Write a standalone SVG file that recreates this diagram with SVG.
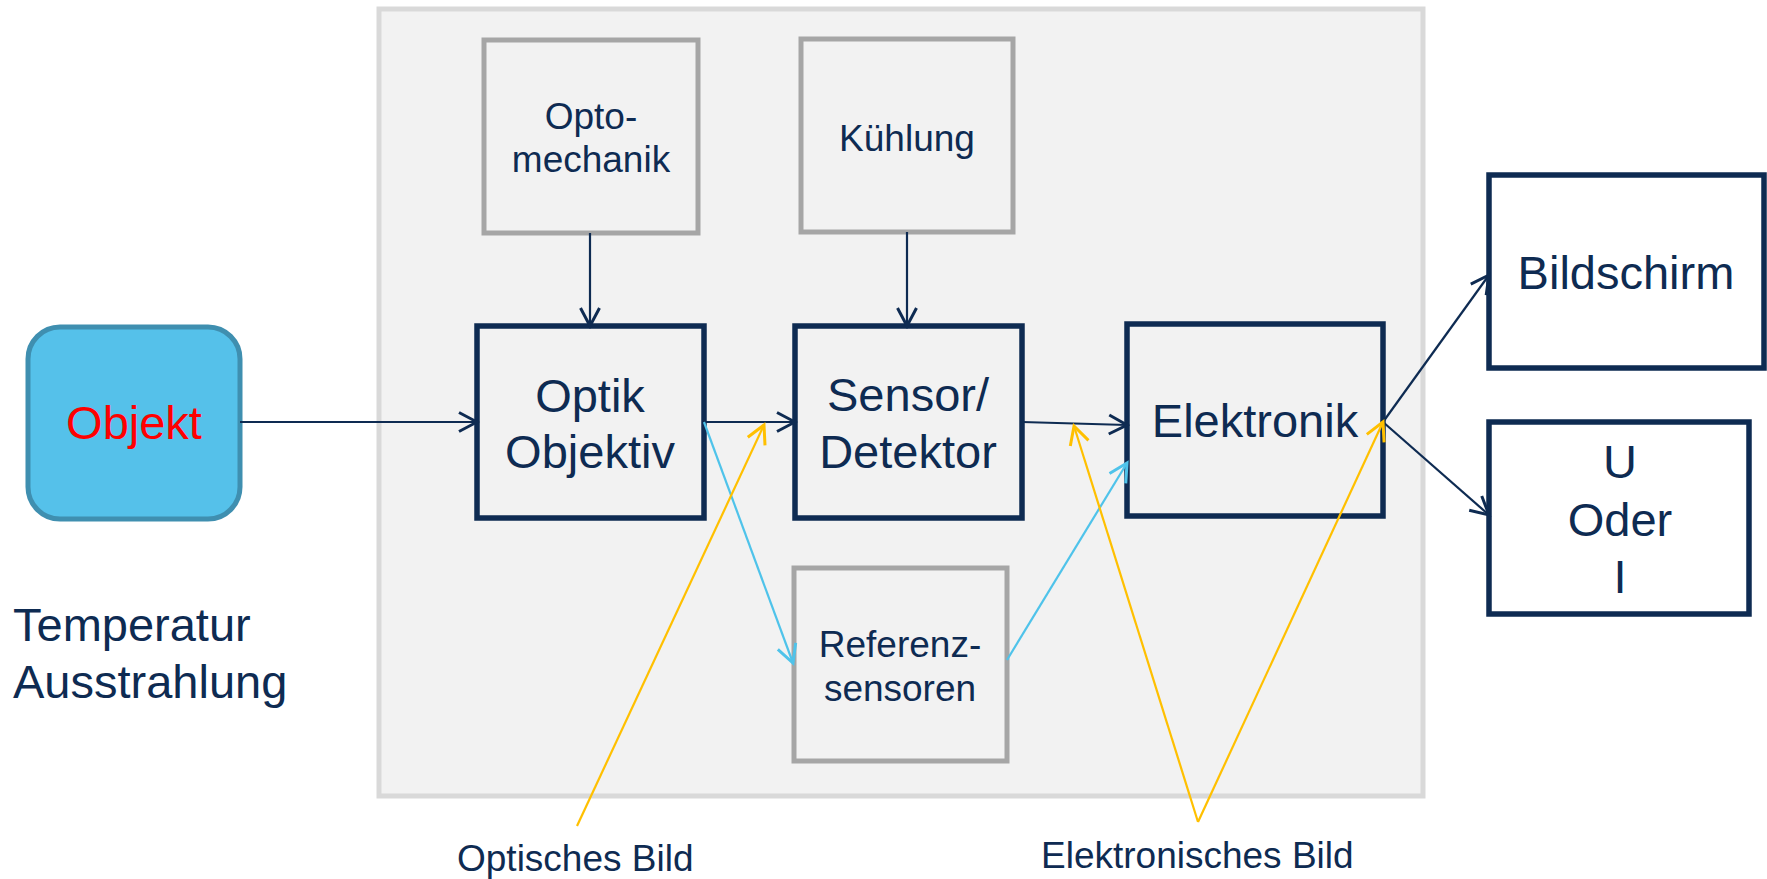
<svg xmlns="http://www.w3.org/2000/svg" width="1767" height="879" viewBox="0 0 1767 879">
<defs>
<style>
.t{font-family:"Liberation Sans",Arial,sans-serif;fill:#0e2b52;text-anchor:middle}
.big{font-size:47px}
.sm{font-size:37px}
.nb{fill:#f2f2f2;stroke:#0e2b52;stroke-width:5.5}
.wb{fill:#ffffff;stroke:#0e2b52;stroke-width:5.5}
.gb{fill:#f2f2f2;stroke:#a6a6a6;stroke-width:5}
.cn{fill:none;stroke:#0e2b52;stroke-width:2.2}
.cb{fill:none;stroke:#4fc3ea;stroke-width:2.2}
.cy{fill:none;stroke:#ffc000;stroke-width:2.2}
</style>
<marker id="aN" markerUnits="userSpaceOnUse" markerWidth="24" markerHeight="24" viewBox="0 0 24 24" refX="21" refY="12" orient="auto"><path d="M3,2.5 L21,12 L3,21.5" fill="none" stroke="#0e2b52" stroke-width="3"/></marker>
<marker id="aB" markerUnits="userSpaceOnUse" markerWidth="24" markerHeight="24" viewBox="0 0 24 24" refX="21" refY="12" orient="auto"><path d="M3,2.5 L21,12 L3,21.5" fill="none" stroke="#4fc3ea" stroke-width="3"/></marker>
<marker id="aY" markerUnits="userSpaceOnUse" markerWidth="24" markerHeight="24" viewBox="0 0 24 24" refX="21" refY="12" orient="auto"><path d="M3,2.5 L21,12 L3,21.5" fill="none" stroke="#ffc000" stroke-width="3"/></marker>
</defs>
<rect width="1767" height="879" fill="#ffffff"/>
<g id="container"><rect x="379" y="9" width="1044" height="787" fill="#f2f2f2" stroke="#d9d9d9" stroke-width="5"/></g>
<g id="objekt"><rect x="28" y="327" width="212" height="192" rx="32" fill="#55c1ea" stroke="#3f8fb0" stroke-width="5"/><text class="t big" x="134" y="439" style="fill:#ff0000">Objekt</text></g>
<g id="optomechanik"><rect class="gb" x="484" y="40" width="214" height="193"/><text class="t sm" x="591" y="129">Opto-</text><text class="t sm" x="591" y="172">mechanik</text></g>
<g id="kuehlung"><rect class="gb" x="801" y="39" width="212" height="193"/><text class="t sm" x="907" y="151">Kühlung</text></g>
<g id="optik"><rect class="nb" x="477" y="326" width="227" height="192"/><text class="t big" x="590" y="412">Optik</text><text class="t big" x="590" y="468">Objektiv</text></g>
<g id="sensor"><rect class="nb" x="795" y="326" width="227" height="192"/><text class="t big" x="908" y="411">Sensor/</text><text class="t big" x="908" y="468">Detektor</text></g>
<g id="elektronik"><rect class="nb" x="1127" y="324" width="256" height="192"/><text class="t big" x="1255" y="437">Elektronik</text></g>
<g id="referenz"><rect class="gb" x="794" y="568" width="213" height="193"/><text class="t sm" x="900" y="657">Referenz-</text><text class="t sm" x="900" y="701">sensoren</text></g>
<g id="bildschirm"><rect class="wb" x="1489" y="175" width="275" height="193"/><text class="t big" x="1626" y="289">Bildschirm</text></g>
<g id="uoderi"><rect class="wb" x="1489" y="422" width="260" height="192"/><text class="t big" x="1620" y="478">U</text><text class="t big" x="1620" y="536">Oder</text><text class="t big" x="1620" y="593">I</text></g>
<g id="labels">
<text class="t big" x="13" y="641" style="text-anchor:start">Temperatur</text>
<text class="t big" x="13" y="698" style="text-anchor:start">Ausstrahlung</text>
<text class="t sm" x="457" y="871" style="text-anchor:start">Optisches Bild</text>
<text class="t sm" x="1041" y="868" style="text-anchor:start">Elektronisches Bild</text>
</g>
<g id="connectors">
<line class="cn" x1="240" y1="422" x2="477" y2="422" marker-end="url(#aN)"/>
<line class="cn" x1="590" y1="233" x2="590" y2="326" marker-end="url(#aN)"/>
<line class="cn" x1="907" y1="232" x2="907" y2="326" marker-end="url(#aN)"/>
<line class="cn" x1="704" y1="422" x2="795" y2="422" marker-end="url(#aN)"/>
<line class="cn" x1="1022" y1="422" x2="1127" y2="425" marker-end="url(#aN)"/>
<line class="cn" x1="1383" y1="422" x2="1489" y2="275" marker-end="url(#aN)"/>
<line class="cn" x1="1383" y1="422" x2="1489" y2="515" marker-end="url(#aN)"/>
<line class="cb" x1="704" y1="422" x2="793" y2="663" marker-end="url(#aB)"/>
<line class="cb" x1="1007" y1="660" x2="1127" y2="463" marker-end="url(#aB)"/>
<line class="cy" x1="577" y1="826" x2="764" y2="425" marker-end="url(#aY)"/>
<line class="cy" x1="1198" y1="822" x2="1074" y2="426" marker-end="url(#aY)"/>
<line class="cy" x1="1198" y1="822" x2="1383" y2="422" marker-end="url(#aY)"/>
</g>
</svg>
